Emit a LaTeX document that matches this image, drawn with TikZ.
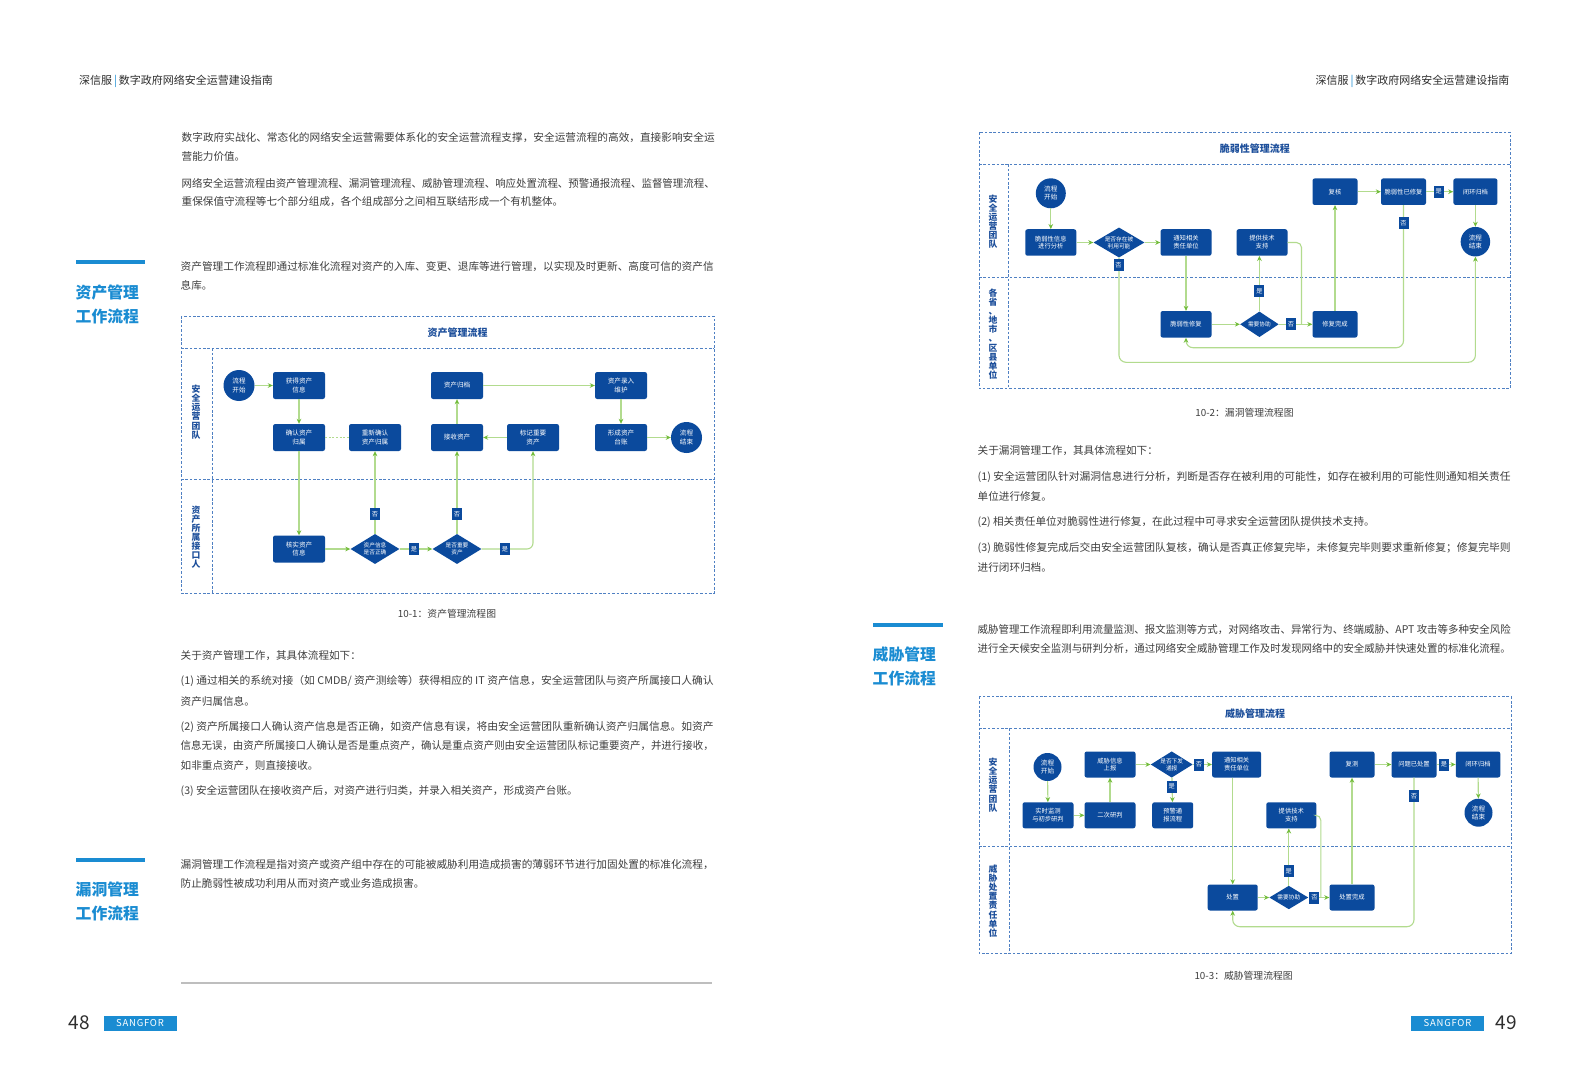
\documentclass[tikz,border=0pt]{standalone}
\usepackage{fontspec}
\usepackage{graphicx}
\setmainfont{Noto Sans CJK SC}
\usetikzlibrary{arrows.meta,shapes.geometric}
\definecolor{boxblue}{HTML}{0B4A9D}
\definecolor{titleblue}{HTML}{1D4F9B}
\definecolor{dashblue}{HTML}{4F80C3}
\definecolor{lngreen}{HTML}{B2DB8E}
\definecolor{tipgreen}{HTML}{72BC3A}
\definecolor{secblue}{HTML}{1A8CD2}
\definecolor{bodygray}{HTML}{3E3E3E}
\definecolor{headgray}{HTML}{2E2E2E}
\definecolor{rulegray}{HTML}{BEBEBE}
\newcommand\jl[1]{\resizebox{533pt}{\height}{#1}}
\tikzset{
  fbox/.style={fill=boxblue, rounded corners=2.2pt, inner sep=0pt, text=white, align=center, minimum height=27pt, minimum width=52pt, font=\fontsize{6.6}{8.2}\selectfont},
  gbox/.style={fbox, minimum height=26.5pt, minimum width=51pt, font=\fontsize{6.3}{7.8}\selectfont},
  fcirc/.style={circle, fill=boxblue, inner sep=0pt, text=white, align=center, minimum size=31pt, font=\fontsize{6.6}{8.2}\selectfont},
  fdia/.style={diamond, fill=boxblue, inner sep=0pt, aspect=1.6, text=white, align=center, minimum width=49pt, minimum height=30pt, font=\fontsize{5.7}{6.7}\selectfont},
  yn/.style={fill=boxblue, text=white, inner sep=0pt, minimum width=10pt, minimum height=12pt, font=\fontsize{6.2}{6.2}\selectfont},
  lanetxt/.style={text=titleblue, inner sep=0pt, align=center, font=\bfseries\fontsize{8.8}{9.1}\selectfont},
  dtitle/.style={text=titleblue, inner sep=0pt, font=\bfseries\fontsize{10}{12}\selectfont},
  dframe/.style={draw=dashblue, line width=0.8pt, dash pattern=on 2.6pt off 1.8pt},
  ln/.style={draw=lngreen, line width=1.1pt},
  ar/.style={ln, -{Stealth[length=5pt,width=4.6pt,color=tipgreen]}},
  bodytxt/.style={anchor=west, inner sep=0pt, text=bodygray, font=\fontsize{10.6}{12}\selectfont},
  sechead/.style={anchor=west, inner sep=0pt, text=secblue, font=\bfseries\fontsize{15.8}{18}\selectfont},
  secbar/.style={draw=secblue, line width=4pt},
  capt/.style={inner sep=0pt, text=bodygray, font=\fontsize{9.8}{12}\selectfont},
  hdr/.style={inner sep=0pt, text=headgray, font=\fontsize{11}{13}\selectfont},
  pgnum/.style={anchor=west, inner sep=0pt, text=headgray, font=\fontsize{19}{20}\selectfont},
  sfbox/.style={fill=secblue, draw=none},
  sftxt/.style={inner sep=0pt, text=white, font=\fontsize{9.5}{10}\selectfont}
}
\begin{document}
\begin{tikzpicture}[x=1pt,y=-1pt]
\fill[white] (0,0) rectangle (1588,1078);
\useasboundingbox (0,0) rectangle (1588,1078);

% ---------------- headers
\node[hdr, anchor=west] (hl) at (79,81.5) {深信服\,{\color{secblue}|}\,数字政府网络安全运营建设指南};
\node[hdr, anchor=east] (hr) at (1509.5,81.5) {深信服\,{\color{secblue}|}\,数字政府网络安全运营建设指南};

% ---------------- left page text
\node[bodytxt] (i1) at (181.5,138) {\jl{数字政府实战化、常态化的网络安全运营需要体系化的安全运营流程支撑，安全运营流程的高效，直接影响安全运}};
\node[bodytxt] (i2) at (181.5,157) {营能力价值。};
\node[bodytxt] (i3) at (181.5,183) {\jl{网络安全运营流程由资产管理流程、漏洞管理流程、威胁管理流程、响应处置流程、预警通报流程、监督管理流程、}};
\node[bodytxt] (i4) at (181.5,202) {重保保值守流程等七个部分组成，各个组成部分之间相互联结形成一个有机整体。};

\draw[secbar] (76,262.5) -- (145,262.5);
\node[sechead] (h1a) at (75.5,292.5) {资产管理};
\node[sechead] (h1b) at (75.5,316.5) {工作流程};
\node[bodytxt] (p1a) at (180.5,267) {\jl{资产管理工作流程即通过标准化流程对资产的入库、变更、退库等进行管理，以实现及时更新、高度可信的资产信}};
\node[bodytxt] (p1b) at (180.5,285.5) {息库。};

% ---------------- diagram 1
\draw[dframe] (181,316) rectangle (714,593.3);
\draw[dframe] (181,348.3) -- (714,348.3);
\draw[dframe] (181,479) -- (714,479);
\draw[dframe] (212,348.3) -- (212,593.3);
\node[dtitle] (a-title) at (457.5,333) {资产管理流程};
\node[lanetxt] (a-lane1) at (196,412) {安\\全\\运\\营\\团\\队};
\node[lanetxt] (a-lane2) at (196,537) {资\\产\\所\\属\\接\\口\\人};

\node[fcirc] (a-start) at (239,385.5) {流程\\开始};
\node[fbox] (a-get) at (299,385.5) {获得资产\\信息};
\node[fbox] (a-conf) at (299,437.5) {确认资产\\归属};
\node[fbox] (a-reconf) at (375,437.5) {重新确认\\资产归属};
\node[fbox] (a-arch) at (457,385.5) {资产归档};
\node[fbox] (a-recv) at (457,437.5) {接收资产};
\node[fbox] (a-mark) at (533,437.5) {标记重要\\资产};
\node[fbox] (a-input) at (621,385.5) {资产录入\\维护};
\node[fbox] (a-ledger) at (621,437.5) {形成资产\\台账};
\node[fcirc] (a-end) at (686.5,437.5) {流程\\结束};
\node[fbox] (a-check) at (299,549) {核实资产\\信息};
\node[fdia] (a-d1) at (375,549) {资产信息\\是否正确};
\node[fdia] (a-d2) at (457,549) {是否重要\\资产};

\draw[ar] (a-start) -- (a-get);
\draw[ar] (a-get) -- (a-conf);
\draw[ln, dash pattern=on 2pt off 1.6pt] (a-conf) -- (a-reconf);
\draw[ar] (a-conf) -- (a-check);
\draw[ar] (a-check) -- (a-d1);
\draw[ar] (a-d1) -- (a-d2);
\draw[ar] (a-d1) -- (a-reconf);
\draw[ar] (a-d2) -- (a-recv);
\draw[ar, rounded corners=6pt] (a-d2.east) -| (a-mark.south);
\draw[ar] (a-mark) -- (a-recv);
\draw[ar] (a-recv) -- (a-arch);
\draw[ar] (a-arch) -- (a-input);
\draw[ar] (a-input) -- (a-ledger);
\draw[ar] (a-ledger) -- (a-end);
\node[yn] (a-y1) at (414,549) {是};
\node[yn] (a-y2) at (505,549) {是};
\node[yn] (a-n1) at (375,514.3) {否};
\node[yn] (a-n2) at (457,514.3) {否};
\node[capt] (a-cap) at (447,614) {10-1：资产管理流程图};

% ---------------- left page text below
\node[bodytxt] (q0) at (180.5,656) {关于资产管理工作，其具体流程如下：};
\node[bodytxt] (q1) at (180.5,681) {\jl{(1) 通过相关的系统对接（如 CMDB/ 资产测绘等）获得相应的 IT 资产信息，安全运营团队与资产所属接口人确认}};
\node[bodytxt] (q2) at (180.5,701) {资产归属信息。};
\node[bodytxt] (q3) at (180.5,727) {\jl{(2) 资产所属接口人确认资产信息是否正确，如资产信息有误，将由安全运营团队重新确认资产归属信息。如资产}};
\node[bodytxt] (q4) at (180.5,746) {\jl{信息无误，由资产所属接口人确认是否是重点资产，确认是重点资产则由安全运营团队标记重要资产，并进行接收，}};
\node[bodytxt] (q5) at (180.5,766) {如非重点资产，则直接接收。};
\node[bodytxt] (q6) at (180.5,791) {(3) 安全运营团队在接收资产后，对资产进行归类，并录入相关资产，形成资产台账。};

\draw[secbar] (76,860) -- (145,860);
\node[sechead] (h2a) at (75.5,889.5) {漏洞管理};
\node[sechead] (h2b) at (75.5,913) {工作流程};
\node[bodytxt] (p2a) at (180.5,864.5) {\jl{漏洞管理工作流程是指对资产或资产组中存在的可能被威胁利用造成损害的薄弱环节进行加固处置的标准化流程，}};
\node[bodytxt] (p2b) at (180.5,883.5) {防止脆弱性被成功利用从而对资产或业务造成损害。};
\draw[draw=rulegray, line width=2pt] (181,982.5) -- (712,982.5);

\node[pgnum] (pg48) at (68.5,1022.5) {48};
\fill[sfbox] (103.5,1016) rectangle (176.5,1030.5);
\node[sftxt] (sf1) at (140,1023.3) {\addfontfeature{LetterSpace=8}SANGFOR};

% ---------------- diagram 2
\draw[dframe] (979,132.5) rectangle (1510.5,388.3);
\draw[dframe] (979,164.5) -- (1510.5,164.5);
\draw[dframe] (979,277) -- (1510.5,277);
\draw[dframe] (1008.5,164.5) -- (1008.5,388.3);
\node[dtitle] (v-title) at (1254.8,148.3) {脆弱性管理流程};
\node[lanetxt] (v-lane1) at (993,221.5) {安\\全\\运\\营\\团\\队};
\node[lanetxt] (v-lane2) at (993,334) {各\\省\\、\\地\\市\\、\\区\\县\\单\\位};

\node[fcirc, minimum size=30pt] (v-start) at (1050.8,193.3) {流程\\开始};
\node[gbox] (v-anal) at (1050.8,242.5) {脆弱性信息\\进行分析};
\node[fdia, minimum width=51pt] (v-d1) at (1119,242.5) {是否存在被\\利用可能};
\node[gbox] (v-notify) at (1186,242.5) {通知相关\\责任单位};
\node[gbox] (v-tech) at (1262,242.5) {提供技术\\支持};
\node[gbox, minimum width=45pt] (v-review) at (1335,191.7) {复核};
\node[gbox, minimum width=45pt] (v-fixed) at (1403.5,191.7) {脆弱性已修复};
\node[gbox, minimum width=44pt] (v-arch) at (1475.4,191.7) {闭环归档};
\node[fcirc, minimum size=29.5pt] (v-end) at (1475.4,241.7) {流程\\结束};
\node[gbox] (v-repair) at (1186,324.3) {脆弱性修复};
\node[fdia, minimum width=38.6pt, minimum height=25.6pt] (v-d2) at (1259.4,324.3) {需要协助};
\node[gbox, minimum width=45pt] (v-done) at (1335,324.3) {修复完成};
\coordinate (v-lo) at (1119,362.3);
\coordinate (v-li) at (1186,347.7);
\coordinate (v-j) at (1301.5,324.3);

\draw[ar] (v-start) -- (v-anal);
\draw[ar] (v-anal) -- (v-d1);
\draw[ar] (v-d1) -- (v-notify);
\draw[ar, rounded corners=7pt] (v-d1.south) -- (v-lo) -- (v-lo -| v-end) -- (v-end.south);
\draw[ar] (v-notify) -- (v-repair);
\draw[ar] (v-repair) -- (v-d2);
\draw[ar] (v-d2) -- (v-done);
\draw[ar] (v-d2.north) -- (v-d2.north |- v-tech.south);
\draw[ln, rounded corners=5pt] (v-tech.east) -| (v-j);
\draw[ar] (v-done) -- (v-review);
\draw[ar] (v-review) -- (v-fixed);
\draw[ar] (v-fixed) -- (v-arch);
\draw[ar] (v-arch) -- (v-end);
\draw[ar, rounded corners=7pt] (v-fixed.south) |- (v-li) -- (v-repair.south);
\node[yn] (v-n1) at (1118.5,265) {否};
\node[yn] (v-y1) at (1438.6,191.7) {是};
\node[yn] (v-n2) at (1403.5,223.3) {否};
\node[yn] (v-y2) at (1259.4,291) {是};
\node[yn] (v-n3) at (1291,324.3) {否};
\node[capt] (v-cap) at (1244.5,412.3) {10-2：漏洞管理流程图};

% ---------------- right page text
\node[bodytxt] (r0) at (977.5,451) {关于漏洞管理工作，其具体流程如下：};
\node[bodytxt] (r1) at (977.5,477.5) {\jl{(1) 安全运营团队针对漏洞信息进行分析，判断是否存在被利用的可能性，如存在被利用的可能性则通知相关责任}};
\node[bodytxt] (r2) at (977.5,496) {单位进行修复。};
\node[bodytxt] (r3) at (977.5,522) {(2) 相关责任单位对脆弱性进行修复，在此过程中可寻求安全运营团队提供技术支持。};
\node[bodytxt] (r4) at (977.5,548) {\jl{(3) 脆弱性修复完成后交由安全运营团队复核，确认是否真正修复完毕，未修复完毕则要求重新修复；修复完毕则}};
\node[bodytxt] (r5) at (977.5,567) {进行闭环归档。};

\draw[secbar] (873,625) -- (943,625);
\node[sechead] (h3a) at (872.5,654) {威胁管理};
\node[sechead] (h3b) at (872.5,678) {工作流程};
\node[bodytxt] (p3a) at (977.5,630) {\jl{威胁管理工作流程即利用流量监测、报文监测等方式，对网络攻击、异常行为、终端威胁、APT 攻击等多种安全风险}};
\node[bodytxt] (p3b) at (977.5,649) {\jl{进行全天候安全监测与研判分析，通过网络安全威胁管理工作及时发现网络中的安全威胁并快速处置的标准化流程。}};

% ---------------- diagram 3
\draw[dframe] (979,696.7) rectangle (1511,953.3);
\draw[dframe] (979,728.3) -- (1511,728.3);
\draw[dframe] (979,846.7) -- (1511,846.7);
\draw[dframe] (1009.3,728.3) -- (1009.3,953.3);
\node[dtitle] (t-title) at (1255,713.3) {威胁管理流程};
\node[lanetxt] (t-lane1) at (993,785) {安\\全\\运\\营\\团\\队};
\node[lanetxt] (t-lane2) at (993,901) {威\\胁\\处\\置\\责\\任\\单\\位};

\node[fcirc, minimum size=28pt] (t-start) at (1047.5,767) {流程\\开始};
\node[gbox, minimum height=26pt] (t-mon) at (1048,815.3) {实时监测\\与初步研判};
\node[gbox, minimum height=26pt] (t-rep) at (1110,764.5) {威胁信息\\上报};
\node[gbox, minimum height=26pt] (t-judge) at (1110,815.3) {二次研判};
\node[fdia, minimum width=41pt, minimum height=25pt] (t-d1) at (1171.7,764.5) {是否下发\\通报};
\node[gbox, minimum height=26pt, minimum width=41pt] (t-warn) at (1172.7,815.3) {预警通\\报流程};
\node[gbox, minimum height=26pt, minimum width=49pt] (t-notify) at (1236.6,764.5) {通知相关\\责任单位};
\node[gbox, minimum height=26pt, minimum width=50pt] (t-tech) at (1291.3,815.3) {提供技术\\支持};
\node[gbox, minimum height=26pt, minimum width=45pt] (t-retest) at (1352,764.5) {复测};
\node[gbox, minimum height=26pt, minimum width=45pt] (t-solved) at (1414,764.5) {问题已处置};
\node[gbox, minimum height=26pt, minimum width=44.5pt] (t-arch) at (1478,764.5) {闭环归档};
\node[fcirc, minimum size=28pt] (t-end) at (1478.5,812.7) {流程\\结束};
\node[gbox, minimum height=26pt, minimum width=50pt] (t-handle) at (1232.7,897.5) {处置};
\node[fdia, minimum width=39pt, minimum height=23.5pt] (t-d2) at (1288.8,897.5) {需要协助};
\node[gbox, minimum height=26pt, minimum width=45pt] (t-done) at (1352,897.5) {处置完成};
\coordinate (t-lo) at (1414,926.7);
\coordinate (t-j) at (1320.8,897.5);

\draw[ar] (t-start) -- (t-mon);
\draw[ar] (t-mon) -- (t-judge);
\draw[ar] (t-judge) -- (t-rep);
\draw[ar] (t-rep) -- (t-d1);
\draw[ar] (t-d1) -- (t-notify);
\draw[ar] (t-d1) -- (t-warn);
\draw[ar] (t-handle.north |- t-notify.south) -- (t-handle.north);
\draw[ar] (t-handle) -- (t-d2);
\draw[ar] (t-d2) -- (t-done);
\draw[ar] (t-d2.north) -- (t-d2.north |- t-tech.south);
\draw[ln, rounded corners=5pt] (t-tech.east) -| (t-j);
\draw[ar] (t-done) -- (t-retest);
\draw[ar] (t-retest) -- (t-solved);
\draw[ar] (t-solved) -- (t-arch);
\draw[ar] (t-arch) -- (t-end);
\draw[ar, rounded corners=7pt] (t-solved.south) -- (t-lo) -- (t-lo -| t-handle) -- (t-handle.south);
\node[yn] (t-n1) at (1199,764.5) {否};
\node[yn] (t-y1) at (1171.7,786.7) {是};
\node[yn] (t-y2) at (1443.9,764.5) {是};
\node[yn] (t-n2) at (1414,796) {否};
\node[yn] (t-y3) at (1288.8,871) {是};
\node[yn] (t-n3) at (1314.4,897.5) {否};
\node[capt] (t-cap) at (1243.6,976) {10-3：威胁管理流程图};

% ---------------- right footer
\fill[sfbox] (1411,1016) rectangle (1484,1030.5);
\node[sftxt] (sf2) at (1447.5,1023.3) {\addfontfeature{LetterSpace=8}SANGFOR};
\node[pgnum] (pg49) at (1495.5,1022.5) {49};
\end{tikzpicture}
\end{document}
